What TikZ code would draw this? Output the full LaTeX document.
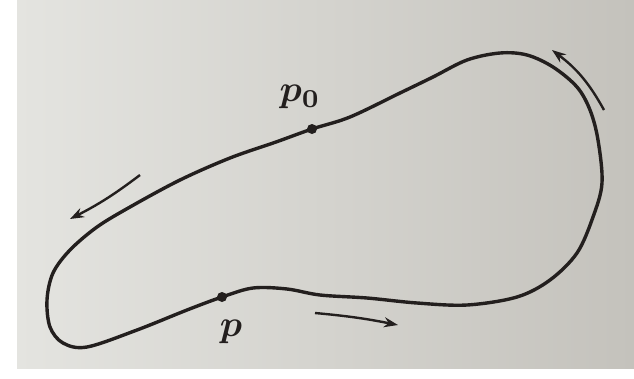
\documentclass[tikz,border=0pt]{standalone}
\usetikzlibrary{arrows.meta,shadings}
\definecolor{paperL}{HTML}{E4E4E0}
\definecolor{paperR}{HTML}{C4C2BC}
\definecolor{ink}{HTML}{231F1E}
\tikzset{
  curve/.style={draw=ink, line width=3.4pt, line join=round},
  dir/.style={draw=ink, line width=2.4pt, -{Stealth[length=14pt,width=10pt]}},
  dotpt/.style={circle, fill=ink, inner sep=0pt, minimum size=10pt},
  lbl/.style={text=ink, inner sep=0pt}
}
\newcommand{\biglbl}[1]{\scalebox{3.7}{\boldmath$#1$}}
\begin{document}
\begin{tikzpicture}[x=1pt,y=-1pt]
\useasboundingbox (0,0) rectangle (634,378);
\fill[white] (0,0) rectangle (634,378);
\shade[left color=paperL, right color=paperR] (17,0) rectangle (634,368);
\draw[curve] plot[smooth cycle, tension=0.55] coordinates {
(312,129) (350,117) (400,93) (433,77) (467,60) (500,53) (527,55) (553,67)
(577,87) (590,110) (598,140) (602,183) (593,217) (577,253) (550,280) (517,297)
(467,305) (417,303) (367,298) (320,295) (287,289) (253,288) (222,297) (187,310)
(137,330) (87,347) (63,343) (50,327) (47,300) (53,273) (70,250) (97,227)
(130,207) (180,180) (230,158) (276,142)};
\node[dotpt] (p0) at (312,129) {};
\node[dotpt] (p) at (222,297) {};
\node[lbl] (l0) at (300,97) {\biglbl{p_0}};
\node[lbl] (l1) at (231,332) {\biglbl{p}};
\coordinate (a1s) at (140,175);
\coordinate (a1e) at (70,219);
\coordinate (a2s) at (315,313);
\coordinate (a2e) at (398,325);
\coordinate (a3s) at (604,110);
\coordinate (a3e) at (552,50);
\draw[dir] (a1s) to[bend left=5] (a1e);
\draw[dir] (a2s) to[bend left=3] (a2e);
\draw[dir] (a3s) to[bend right=12] (a3e);
\end{tikzpicture}
\end{document}
